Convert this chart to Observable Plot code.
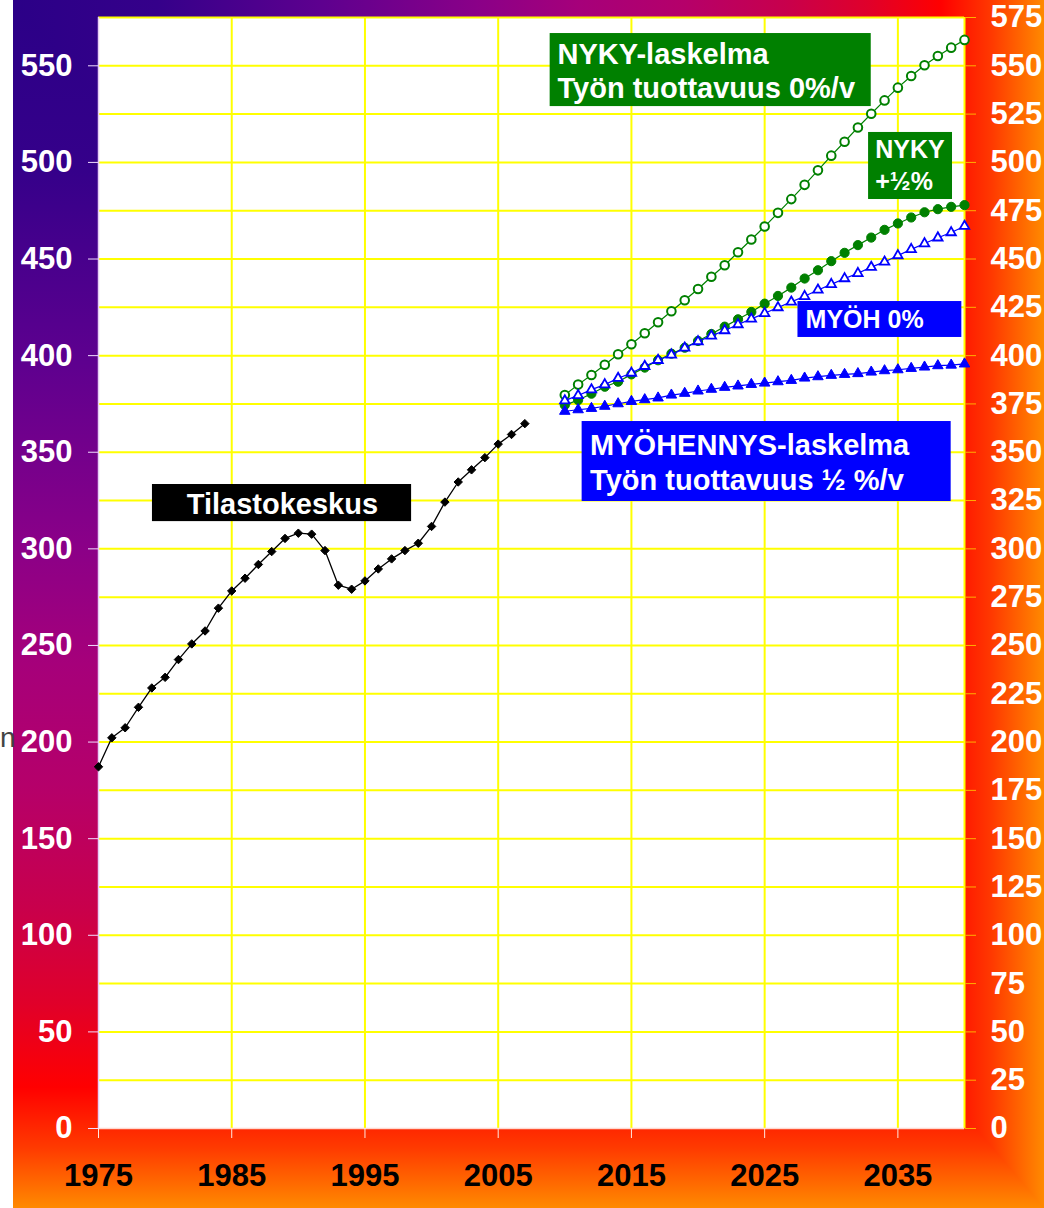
<!DOCTYPE html>
<html>
<head>
<meta charset="utf-8">
<script src="https://cdn.jsdelivr.net/npm/d3@7"></script>
<script src="https://cdn.jsdelivr.net/npm/@observablehq/plot@0.6"></script>
<style>
  html, body { margin: 0; padding: 0; background: #ffffff; }
  #wrap { position: relative; width: 1044px; height: 1208px; overflow: hidden; background: #ffffff; }
  .bg { position: absolute; left: 13px; top: 0; width: 1031px; height: 1208px; }
  #bgV { background: linear-gradient(to bottom, #2b0087 0%, #35008a 14%, #5e008f 30%, #8a0088 45%, #a6007a 55%, #b5006a 65%, #c8004c 75%, #e0002a 83%, #ff0000 90%, #ff3a00 95%, #ff8a00 100%); }
  #bgH { background: linear-gradient(to right, #2b0087 0%, #35008a 14%, #5e008f 30%, #8a0088 45%, #a6007a 55%, #b5006a 65%, #c8004c 75%, #e0002a 83%, #ff0000 90%, #ff3a00 95%, #ff8a00 100%);
         clip-path: polygon(0 0, 100% 0, 100% 100%); }
  #chart { position: absolute; left: 0; top: 0; }
  #frag { position: absolute; left: 0px; top: 722px; font: 28px "Liberation Sans", Arial, sans-serif; color: #444; }
</style>
</head>
<body>
<div id="wrap">
  <div class="bg" id="bgV"></div>
  <div class="bg" id="bgH"></div>
  <div id="frag">n</div>
  <div id="chart"></div>
</div>
<script>
// ---- data ----
const histYears = d3.range(1975, 2008);
const histValues = [187.2, 202.2, 207.4, 218.0, 228.0, 233.5, 242.7, 250.8, 257.5, 269.3, 278.2,
  284.8, 291.9, 298.6, 305.4, 308.1, 307.6, 299.1, 281.2, 279.1, 283.4, 289.6, 294.8, 299.1,
  302.9, 311.6, 324.2, 334.6, 340.9, 347.2, 354.2, 359.2, 364.8];

const fcYears = d3.range(2010, 2041);
const nyky0 = [379.6, 385.0, 390.0, 395.3, 400.7, 405.9, 411.6, 417.3, 423.0, 428.7, 434.5,
  440.8, 446.8, 453.5, 460.1, 466.8, 473.9, 481.0, 488.4, 495.9, 503.5, 510.7, 518.1, 525.2,
  532.1, 538.7, 544.7, 550.3, 555.1, 559.4, 563.4];
const nykyHalf = [374.4, 377.0, 380.3, 383.9, 386.5, 390.3, 393.8, 397.6, 401.0, 404.1, 407.6,
  411.2, 415.0, 418.8, 422.6, 426.9, 430.9, 435.2, 439.9, 444.2, 448.9, 453.2, 457.2, 461.1,
  465.1, 468.4, 471.5, 474.2, 475.8, 477.0, 477.9];
const myoh0 = [376.7, 379.4, 382.4, 385.0, 388.3, 391.0, 394.5, 397.6, 400.4, 404.0, 407.3,
  410.2, 413.0, 416.1, 419.0, 421.9, 424.9, 427.8, 430.7, 434.0, 436.9, 439.9, 442.6, 445.8,
  448.5, 451.8, 455.0, 458.0, 461.0, 463.7, 467.0];
const myohHalf = [371.2, 372.0, 372.7, 373.8, 375.1, 376.3, 377.2, 378.1, 379.6, 380.5, 381.7,
  382.6, 383.6, 384.3, 385.1, 385.8, 386.5, 387.2, 388.4, 389.1, 389.8, 390.3, 390.7, 391.5,
  392.2, 392.7, 393.4, 394.1, 394.8, 395.1, 395.7];

const xTicks = [1975, 1985, 1995, 2005, 2015, 2025, 2035];
const yTicksLeft = d3.range(0, 551, 50);
const yTicksRight = d3.range(0, 576, 25);

// annotation boxes (data units)
const boxes = [
  {x1: 2008.9, x2: 2033.0, y1: 528.9, y2: 566.7, fill: "#008000"},
  {x1: 2032.8, x2: 2039.1, y1: 480.8, y2: 515.5, fill: "#008000"},
  {x1: 2027.5, x2: 2039.8, y1: 409.4, y2: 428.0, fill: "#0000ff"},
  {x1: 2011.3, x2: 2039.0, y1: 324.5, y2: 365.9, fill: "#0000ff"},
  {x1: 1979.05, x2: 1998.5, y1: 314.1, y2: 333.3, fill: "#000000"}
];
const labels = [
  {x: 2009.45, y: 555.8, text: "NYKY-laskelma", size: 29, anchor: "start"},
  {x: 2009.45, y: 538.0, text: "Työn tuottavuus 0%/v", size: 29, anchor: "start"},
  {x: 2033.3, y: 506.2, text: "NYKY", size: 25, anchor: "start"},
  {x: 2033.3, y: 490.1, text: "+½%", size: 25, anchor: "start"},
  {x: 2028.07, y: 418.5, text: "MYÖH 0%", size: 25, anchor: "start"},
  {x: 2011.9, y: 353.5, text: "MYÖHENNYS-laskelma", size: 29, anchor: "start"},
  {x: 2011.9, y: 335.4, text: "Työn tuottavuus ½ %/v", size: 29, anchor: "start"},
  {x: 1988.8, y: 322.9, text: "Tilastokeskus", size: 29, anchor: "middle"}
];

const hist = histYears.map((y, i) => ({year: y, v: histValues[i]}));
const mk = arr => fcYears.map((y, i) => ({year: y, v: arr[i]}));
const sNyky0 = mk(nyky0), sNykyHalf = mk(nykyHalf), sMyoh0 = mk(myoh0), sMyohHalf = mk(myohHalf);

const green = "#008000", blue = "#0000ff";

const chart = Plot.plot({
  width: 1044,
  height: 1208,
  marginLeft: 98,
  marginRight: 80,
  marginTop: 17,
  marginBottom: 80,
  style: {background: "transparent", fontFamily: "'Liberation Sans', Arial, sans-serif", overflow: "visible"},
  x: {domain: [1975, 2040], label: null},
  y: {domain: [0, 575], label: null},
  marks: [
    Plot.frame({fill: "white", stroke: "none"}),
    Plot.ruleY(yTicksRight.filter(d => d > 0), {stroke: "#ffff00", strokeWidth: 2}),
    Plot.ruleX(xTicks.filter(d => d > 1975), {stroke: "#ffff00", strokeWidth: 2}),
    Plot.ruleX([2040], {stroke: "#ffff00", strokeWidth: 2}),
    Plot.ruleX([1975], {stroke: "#e6cdf5", strokeWidth: 1.5}),
    Plot.ruleY([0], {stroke: "#ffd8d0", strokeWidth: 1.5}),
    Plot.axisY({anchor: "left", ticks: yTicksLeft, tickSize: 10, tickPadding: 16, tickFormat: d => String(d),
      fill: "white", stroke: "#f0dcff", fontSize: 31, fontWeight: "bold", label: null}),
    Plot.axisY({anchor: "right", ticks: yTicksRight, tickSize: 11, tickPadding: 15, tickFormat: d => String(d),
      fill: "white", stroke: "#ffb000", fontSize: 31, fontWeight: "bold", label: null}),
    Plot.axisX({anchor: "bottom", ticks: xTicks, tickSize: 10, tickPadding: 25, tickFormat: d => String(d),
      fill: "black", stroke: "#ffe8e0", fontSize: 31, fontWeight: "bold", label: null}),
    // historical
    Plot.line(hist, {x: "year", y: "v", stroke: "black", strokeWidth: 1.3}),
    Plot.dot(hist, {x: "year", y: "v", symbol: "diamond2", fill: "black", stroke: "black", strokeWidth: 1, r: 3.8}),
    // NYKY 0%
    Plot.line(sNyky0, {x: "year", y: "v", stroke: green, strokeWidth: 1.2}),
    Plot.dot(sNyky0, {x: "year", y: "v", symbol: "circle", fill: "white", stroke: green, strokeWidth: 2, r: 4.3}),
    // NYKY +1/2%
    Plot.line(sNykyHalf, {x: "year", y: "v", stroke: green, strokeWidth: 1.2}),
    Plot.dot(sNykyHalf, {x: "year", y: "v", symbol: "circle", fill: green, stroke: green, strokeWidth: 1, r: 4.6}),
    // MYOH 0%
    Plot.line(sMyoh0, {x: "year", y: "v", stroke: blue, strokeWidth: 1.2}),
    Plot.dot(sMyoh0, {x: "year", y: "v", symbol: "triangle", fill: "white", stroke: blue, strokeWidth: 1.8, r: 3.5}),
    // MYOH 1/2%
    Plot.line(sMyohHalf, {x: "year", y: "v", stroke: blue, strokeWidth: 1.2}),
    Plot.dot(sMyohHalf, {x: "year", y: "v", symbol: "triangle", fill: blue, stroke: blue, strokeWidth: 1, r: 3.9}),
    // annotation boxes
    Plot.rect(boxes, {x1: "x1", x2: "x2", y1: "y1", y2: "y2", fill: d => d.fill}),
    ...labels.map(l => Plot.text([l], {x: "x", y: "y", text: "text", fill: "white", fontSize: l.size,
      fontWeight: "bold", textAnchor: l.anchor, lineAnchor: "middle"}))
  ]
});
document.getElementById("chart").appendChild(chart);
</script>
</body>
</html>
